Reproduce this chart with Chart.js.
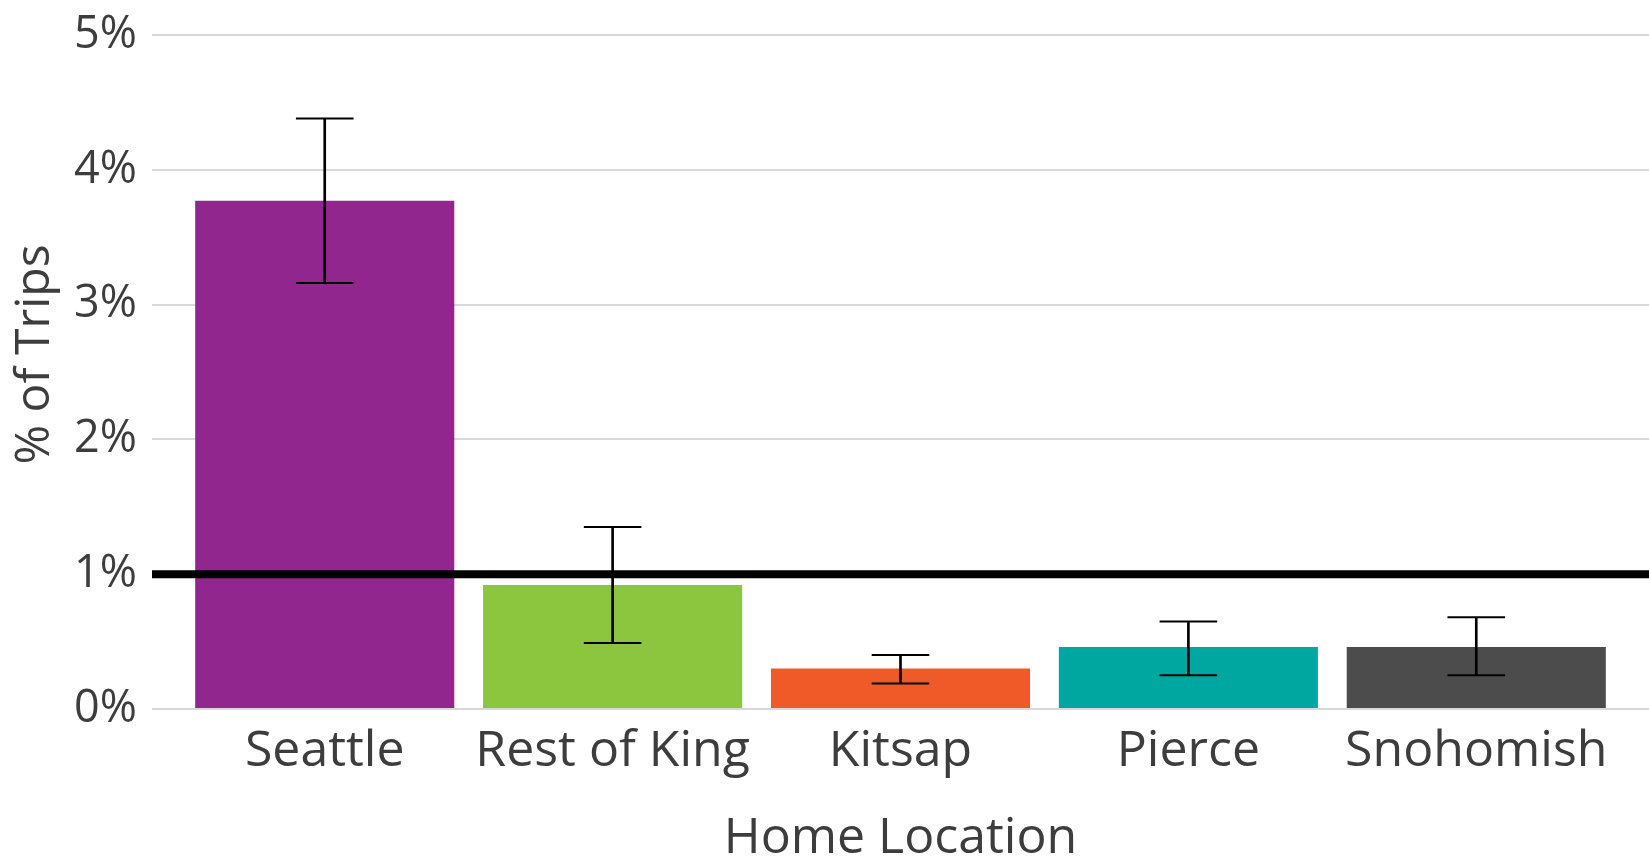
<!DOCTYPE html>
<html>
<head>
<meta charset="utf-8">
<script src="https://cdn.jsdelivr.net/npm/chart.js@4.4.0/dist/chart.umd.min.js"></script>
<style>
  html,body{margin:0;padding:0;background:#fff;}
  canvas{display:block;}
</style>
</head>
<body>
<canvas id="myChart" width="1649" height="857"></canvas>
<script>
// home locations and share of trips (%)
const categories=["Seattle","Rest of King","Kitsap","Pierce","Snohomish"];
const shares=[3.77,0.92,0.30,0.46,0.46];
const lowerBounds=[3.16,0.49,0.19,0.25,0.25];
const upperBounds=[4.38,1.35,0.40,0.65,0.68];
const barColors=["#91268F","#8CC63E","#F05A28","#00A7A0","#4C4C4C"];
const yTicks=[0,1,2,3,4,5];
const refValue=1;

const textColor="#3d3d3d";
const fontFamily="'Open Sans', 'Noto Sans', sans-serif";

let barData=[], errData=[], capData=[];
for(let i=0;i<categories.length;i++){
  barData.push({x:i,y:shares[i]});
  errData.push({x:i,y:[lowerBounds[i],upperBounds[i]]});
  capData.push({x:i,y:lowerBounds[i]});
  capData.push({x:i,y:upperBounds[i]});
}

new Chart("myChart",{
  data:{
    datasets:[
      {
        type:"bar",
        data:barData,
        backgroundColor:barColors,
        borderWidth:0,
        barPercentage:0.9,
        categoryPercentage:1,
        grouped:false,
        order:3
      },
      {
        type:"line",
        data:[{x:-0.6,y:refValue},{x:categories.length-0.4,y:refValue}],
        borderColor:"#000",
        borderWidth:8,
        pointRadius:0,
        order:2
      },
      {
        type:"bar",
        data:errData,
        backgroundColor:"#000",
        borderWidth:0,
        barThickness:2,
        grouped:false,
        order:1
      },
      {
        type:"scatter",
        data:capData,
        pointStyle:"line",
        radius:28.8,
        borderColor:"#000",
        borderWidth:2,
        order:0
      }
    ]
  },
  options:{
    responsive:false,
    animation:false,
    layout:{padding:0,autoPadding:false},
    plugins:{
      legend:{display:false},
      tooltip:{enabled:false}
    },
    scales:{
      x:{
        type:"linear",
        offset:false,
        min:-0.6,
        max:categories.length-0.4,
        grid:{display:false,drawTicks:false,offset:false},
        border:{display:false},
        afterBuildTicks:function(scale){
          scale.ticks=categories.map((c,i)=>({value:i}));
        },
        afterFit:function(scale){
          scale.height=148;
          scale.paddingLeft=0;
          scale.paddingRight=0;
        },
        ticks:{
          autoSkip:false,
          maxRotation:0,
          padding:13,
          color:textColor,
          font:{family:fontFamily,size:50},
          callback:function(v){return categories[v];}
        },
        title:{
          display:true,
          text:"Home Location",
          color:textColor,
          font:{family:fontFamily,size:50},
          padding:{top:0,bottom:-12}
        }
      },
      y:{
        min:0,
        max:5.26,
        grid:{color:"#d9d9d9",lineWidth:2,drawTicks:false},
        border:{display:false},
        afterBuildTicks:function(scale){
          scale.ticks=yTicks.map(v=>({value:v}));
        },
        afterFit:function(scale){
          scale.width=152;
          scale.paddingTop=0;
          scale.paddingBottom=0;
        },
        ticks:{
          padding:15,
          color:textColor,
          font:{family:fontFamily,size:45},
          callback:function(v){return v+"%";}
        },
        title:{
          display:true,
          text:"% of Trips",
          color:textColor,
          font:{family:fontFamily,size:48},
          padding:{top:7,bottom:0}
        }
      }
    }
  }
});
</script>
</body>
</html>
